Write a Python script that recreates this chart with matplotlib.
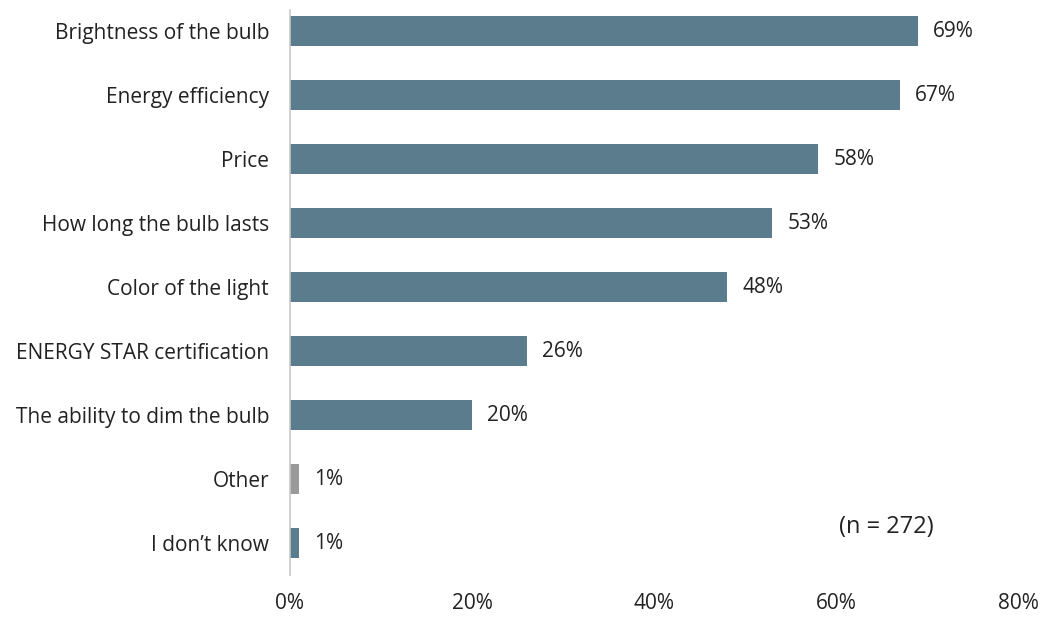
import matplotlib
matplotlib.use("Agg")
import matplotlib.pyplot as plt

categories = [
    "Brightness of the bulb",
    "Energy efficiency",
    "Price",
    "How long the bulb lasts",
    "Color of the light",
    "ENERGY STAR certification",
    "The ability to dim the bulb",
    "Other",
    "I don\u2019t know",
]
values = [69, 67, 58, 53, 48, 26, 20, 1, 1]
bar_colors = ["#5B7C8D"] * 7 + ["#9A9A9A", "#5B7C8D"]
xticks = [0, 20, 40, 60, 80]

plt.rcParams["font.family"] = ["Open Sans", "DejaVu Sans"]

fig = plt.figure(figsize=(10.43, 6.18), dpi=100)
ax = fig.add_axes([0.278, 0.0696, 0.698, 0.914])

ypos = list(range(len(categories)))
ax.barh(ypos, values, height=0.47, color=bar_colors)
for y, v in zip(ypos, values):
    ax.text(v + 1.7, y, f"{v}%", va="center", ha="left", fontsize=15, color="#222222")

ax.set_xlim(0, 80)
ax.set_ylim(8.5, -0.33)
ax.set_yticks(ypos)
ax.set_yticklabels(categories, fontsize=15, color="#222222")
ax.set_xticks(xticks)
ax.set_xticklabels([f"{t}%" for t in xticks], fontsize=15, color="#222222")
ax.tick_params(axis="both", length=0)
ax.tick_params(axis="y", pad=15)
ax.tick_params(axis="x", pad=13)

for side in ["top", "right", "bottom"]:
    ax.spines[side].set_visible(False)
ax.spines["left"].set_color("#C8C8C8")
ax.spines["left"].set_linewidth(1.2)

ax.text(65.5, 7.75, "(n = 272)", fontsize=17, ha="center", va="center", color="#222222")

fig.savefig("out.png", dpi=100)
